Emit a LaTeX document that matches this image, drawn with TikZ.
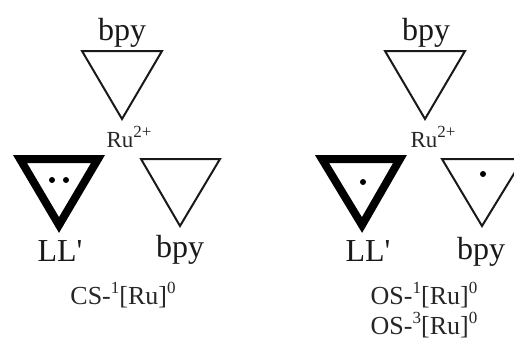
\documentclass[tikz,border=0pt]{standalone}
\usepackage{fontspec}
\setmainfont{Liberation Serif}
\newfontfamily\plainserif{Liberation Serif}
\newcommand{\supr}[1]{\raisebox{0.42em}{\fontsize{17}{17}\selectfont\plainserif #1}}
\tikzset{
  x=1pt,y=-1pt,
  thin tri/.style={draw=black!90,line width=2pt,line join=miter,fill=none},
  thick tri/.style={draw=black,line width=8pt,line join=miter,fill=none},
  ligand/.style={inner sep=0pt,anchor=base,text=black!90,font=\fontsize{32}{32}\selectfont\plainserif},
  metal/.style={inner sep=0pt,anchor=base,text=black!85,font=\fontsize{23}{23}\selectfont\plainserif},
  caption/.style={inner sep=0pt,anchor=base,text=black!85,font=\fontsize{26}{26}\selectfont\plainserif},
  electron/.style={circle,fill=black,inner sep=0pt,minimum size=6pt}
}
\begin{document}
\begin{tikzpicture}
\useasboundingbox (0,0) rectangle (514,340);
\begin{scope}
\clip (0,0) rectangle (514,340);
% left complex
\draw[thin tri] (82,51) -- (162,51) -- (122,119) -- cycle;
\draw[thick tri] (20,159) -- (98,159) -- (59,225) -- cycle;
\draw[thin tri] (141,159) -- (220,159) -- (180,226) -- cycle;
\node[electron] (e1) at (52,180) {};
\node[electron] (e2) at (66,180) {};
% right complex
\draw[thin tri] (385,51) -- (465,51) -- (425,119) -- cycle;
\draw[thick tri] (322,159) -- (400,159) -- (362,225) -- cycle;
\draw[thin tri] (442,159) -- (523,159) -- (482,226) -- cycle;
\node[electron] (e3) at (363,182) {};
\node[electron] (e4) at (483,174) {};
% left labels
\node[ligand] (b1) at (122,40) {bpy};
\node[metal] (r1) at (129,147) {Ru\supr{2+}};
\node[ligand] (l1) at (60,261) {LL'};
\node[ligand] (b2) at (180,257) {bpy};
\node[caption] (c1) at (123,304) {CS-\supr{1}[Ru]\supr{0}};
% right labels
\node[ligand] (b3) at (426,40) {bpy};
\node[metal] (r2) at (433,147) {Ru\supr{2+}};
\node[ligand] (l2) at (368,261) {LL'};
\node[ligand] (b4) at (481,259) {bpy};
\node[caption] (c2) at (424,304) {OS-\supr{1}[Ru]\supr{0}};
\node[caption] (c3) at (424,334) {OS-\supr{3}[Ru]\supr{0}};
\end{scope}
\end{tikzpicture}
\end{document}
